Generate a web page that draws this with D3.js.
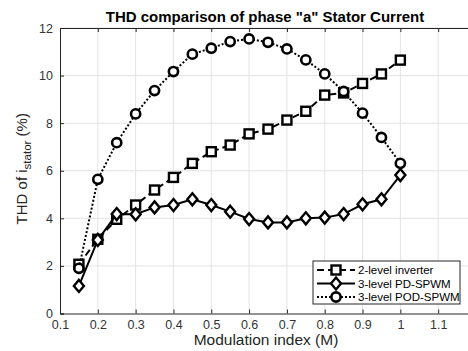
<!DOCTYPE html>
<html>
<head>
<meta charset="utf-8">
<script src="https://cdn.jsdelivr.net/npm/d3@7"></script>
<style>
  body { margin: 0; background: #fff; }
  svg { display: block; font-family: "Liberation Sans", Arial, sans-serif; }
</style>
</head>
<body>
<div id="chart"></div>
<script>
// ---- Data ----
const modIndex = [0.15, 0.2, 0.25, 0.3, 0.35, 0.4, 0.45, 0.5, 0.55, 0.6, 0.65, 0.7, 0.75, 0.8, 0.85, 0.9, 0.95, 1.0];
const twoLevel = [2.07, 3.12, 3.96, 4.56, 5.19, 5.72, 6.31, 6.8, 7.08, 7.55, 7.75, 8.13, 8.5, 9.18, 9.27, 9.67, 10.07, 10.65];
const pdSpwm   = [1.16, 3.09, 4.18, 4.17, 4.46, 4.56, 4.8, 4.56, 4.28, 3.97, 3.83, 3.83, 4.0, 4.03, 4.18, 4.59, 4.8, 5.82];
const podSpwm  = [1.9, 5.64, 7.18, 8.39, 9.37, 10.17, 10.9, 11.15, 11.43, 11.54, 11.4, 11.12, 10.66, 10.07, 9.33, 8.42, 7.4, 6.31];
const xTicks = [0.1, 0.2, 0.3, 0.4, 0.5, 0.6, 0.7, 0.8, 0.9, 1, 1.1];
const yTicks = [0, 2, 4, 6, 8, 10, 12];

const seriesList = [
  { name: "2-level inverter", values: twoLevel, marker: "square",  dash: "7,4" },
  { name: "3-level PD-SPWM",  values: pdSpwm,   marker: "diamond", dash: null },
  { name: "3-level POD-SPWM", values: podSpwm,  marker: "circle",  dash: "2,2" }
];

// ---- Layout ----
const W = 468, H = 351;
const margin = { top: 28, left: 60 };
const plotW = 416, plotH = 285.5;   // x runs to 1.2, just past the right edge

const svg = d3.select("#chart").append("svg")
  .attr("width", W).attr("height", H);

const x = d3.scaleLinear().domain([0.1, 1.2]).range([margin.left, margin.left + plotW]);
const y = d3.scaleLinear().domain([0, 12]).range([margin.top + plotH, margin.top]);

// ---- Grid ----
const grid = svg.append("g").attr("stroke", "#e3e3e3").attr("stroke-width", 1);
grid.selectAll("line.vx").data(xTicks.slice(1)).join("line")
  .attr("x1", d => x(d)).attr("x2", d => x(d))
  .attr("y1", y(0)).attr("y2", y(12));
grid.selectAll("line.hy").data(yTicks.slice(1)).join("line")
  .attr("x1", x(0.1)).attr("x2", x(1.2))
  .attr("y1", d => y(d)).attr("y2", d => y(d));

// ---- Axes ----
const axisColor = "#262626";
const xAxis = svg.append("g")
  .attr("transform", `translate(0,${y(0)})`)
  .call(d3.axisBottom(x).tickValues(xTicks).tickSize(-4).tickPadding(7).tickFormat(d3.format("")));
const xTop = svg.append("g")
  .attr("transform", `translate(0,${y(12)})`)
  .call(d3.axisTop(x).tickValues(xTicks).tickSize(-4).tickFormat(""));
const yAxis = svg.append("g")
  .attr("transform", `translate(${x(0.1)},0)`)
  .call(d3.axisLeft(y).tickValues(yTicks).tickSize(-4).tickPadding(7));

[xAxis, xTop, yAxis].forEach(g => {
  g.select(".domain").attr("stroke", axisColor).attr("stroke-width", 1);
  g.selectAll(".tick line").attr("stroke", axisColor);
  g.selectAll("text").attr("fill", "#333").attr("font-size", 12.5)
    .attr("font-family", "'Liberation Sans', Arial, sans-serif");
});

// ---- Title & labels ----
svg.append("text")
  .attr("x", 265).attr("y", 22)
  .attr("text-anchor", "middle")
  .attr("font-size", 15).attr("font-weight", "bold")
  .text('THD comparison of phase "a" Stator Current');

svg.append("text")
  .attr("x", 266).attr("y", 345)
  .attr("text-anchor", "middle")
  .attr("font-size", 15.5).attr("fill", "#262626")
  .text("Modulation index (M)");

const yl = svg.append("text")
  .attr("transform", `translate(27,${y(6) - 2}) rotate(-90)`)
  .attr("text-anchor", "middle")
  .attr("font-size", 15).attr("fill", "#262626");
yl.append("tspan").text("THD of i");
yl.append("tspan").attr("font-size", 11.5).attr("dy", 4).text("stator");
yl.append("tspan").attr("dy", -4).text(" (%)");

// ---- Markers ----
function drawMarker(g, type, cx, cy) {
  if (type === "square") {
    g.append("rect").attr("x", cx - 4.5).attr("y", cy - 4.5).attr("width", 9).attr("height", 9)
      .attr("fill", "#fff").attr("stroke", "#000").attr("stroke-width", 2.4);
  } else if (type === "diamond") {
    g.append("path")
      .attr("d", `M${cx},${cy - 6}L${cx + 5},${cy}L${cx},${cy + 6}L${cx - 5},${cy}Z`)
      .attr("fill", "#fff").attr("stroke", "#000").attr("stroke-width", 2.4);
  } else {
    g.append("circle").attr("cx", cx).attr("cy", cy).attr("r", 4.6)
      .attr("fill", "#fff").attr("stroke", "#000").attr("stroke-width", 2.6);
  }
}

// ---- Series ----
const line = d3.line().x(d => x(d[0])).y(d => y(d[1]));
seriesList.forEach(s => {
  const pts = modIndex.map((m, i) => [m, s.values[i]]);
  svg.append("path")
    .datum(pts)
    .attr("d", line)
    .attr("fill", "none")
    .attr("stroke", "#000")
    .attr("stroke-width", 2)
    .attr("stroke-dasharray", s.dash);
  const mg = svg.append("g");
  pts.forEach(p => drawMarker(mg, s.marker, x(p[0]), y(p[1])));
});

// ---- Legend ----
const lg = svg.append("g");
lg.append("rect")
  .attr("x", 313).attr("y", 261).attr("width", 147).attr("height", 43)
  .attr("fill", "#fff").attr("stroke", "#262626").attr("stroke-width", 1);
seriesList.forEach((s, i) => {
  const ly = 270 + i * 13.5;
  lg.append("line")
    .attr("x1", 317).attr("x2", 355).attr("y1", ly).attr("y2", ly)
    .attr("stroke", "#000").attr("stroke-width", 2)
    .attr("stroke-dasharray", s.dash);
  drawMarker(lg, s.marker, 336, ly);
  lg.append("text")
    .attr("x", 358).attr("y", ly + 4)
    .attr("font-size", 11.5).attr("fill", "#000")
    .text(s.name);
});
</script>
</body>
</html>
